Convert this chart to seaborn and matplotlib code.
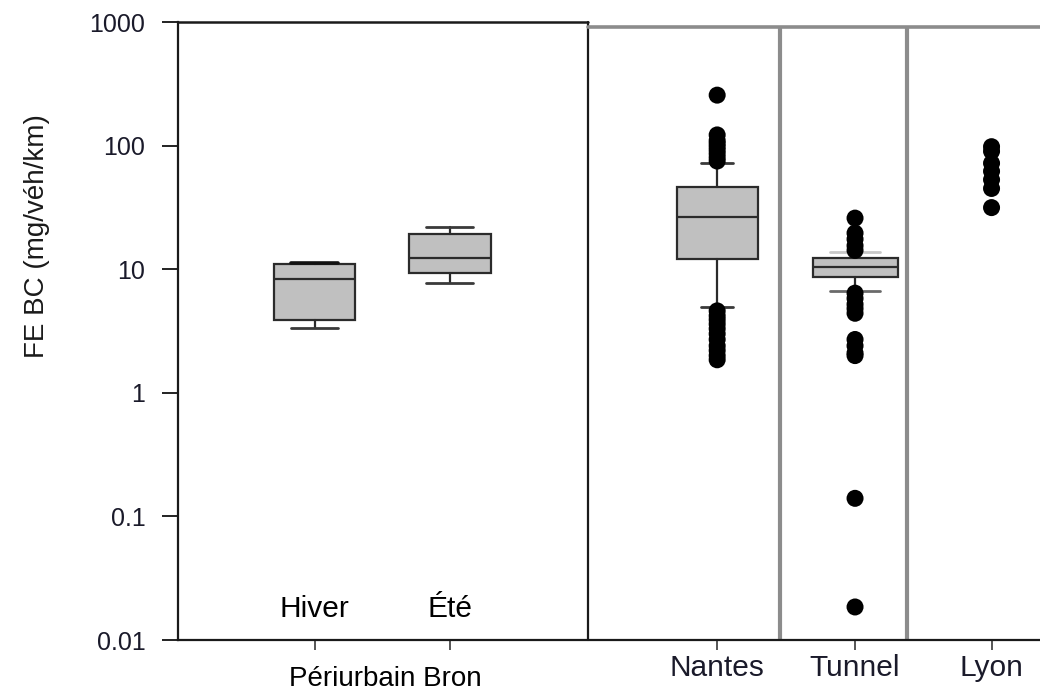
import matplotlib

matplotlib.use("Agg")

import matplotlib.pyplot as plt
import pandas as pd
import seaborn as sns
from matplotlib.ticker import NullLocator

sns.set_theme(style="white")
plt.rcParams["font.family"] = ["Liberation Sans", "DejaVu Sans"]

# box statistics (mg/veh/km)
box_groups = ["Hiver", "Été", "Nantes", "Tunnel"]
whislo = [3.33, 7.8, 4.9, 6.7]
q1 = [3.85, 9.3, 12.2, 8.6]
med = [8.3, 12.4, 26.6, 10.4]
q3 = [11.0, 19.3, 46.0, 12.4]
whishi = [11.2, 21.9, 72.0, 13.9]

# individual points (outliers / Lyon samples)
nantes_pts = [256, 122, 110, 104, 98, 92, 86, 80, 75,
              4.6, 4.2, 3.9, 3.6, 3.3, 3.0, 2.7, 2.4, 2.2, 2.0, 1.85]
tunnel_pts = [25.9, 19.6, 17.5, 15.5, 14.2,
              6.4, 5.8, 5.2, 4.8, 4.4, 2.7, 2.4, 2.1, 2.0, 0.14, 0.0185]
lyon_pts = [98, 90, 72, 62, 53, 45, 31.5]

sites = ["Hiver", "Été", "Nantes", "Tunnel", "Lyon"]
xtick_labels = ["", "", "Nantes", "Tunnel", "Lyon"]
yticks = [0.01, 0.1, 1, 10, 100, 1000]
ytick_labels = ["0.01", "0.1", "1", "10", "100", "1000"]

# layout
pos = {"Hiver": 1.0, "Été": 1.99, "Nantes": 3.95, "Tunnel": 4.96, "Lyon": 5.96}
box_widths = [0.6, 0.6, 0.593, 0.623]
cap_widths = [0.344, 0.344, 0.234, 0.366]

fig = plt.figure(figsize=(10.4, 6.92), dpi=100)
ax = fig.add_axes([178 / 1040, 52 / 692, 862 / 1040, 618 / 692])

stats = [
    {"label": g, "whislo": lo, "q1": a, "med": m, "q3": b, "whishi": hi, "fliers": []}
    for g, lo, a, m, b, hi in zip(box_groups, whislo, q1, med, q3, whishi)
]
art = ax.bxp(
    stats,
    positions=[pos[g] for g in box_groups],
    widths=box_widths,
    capwidths=cap_widths,
    patch_artist=True,
    showfliers=False,
    manage_ticks=False,
    boxprops=dict(facecolor="#c0c0c0", edgecolor="#2b2b2b", linewidth=1.6),
    medianprops=dict(color="#2b2b2b", linewidth=1.6),
    whiskerprops=dict(color="#2b2b2b", linewidth=1.6),
    capprops=dict(color="#3a3a3a", linewidth=2.0),
)
art["caps"][1].set_color("#111111")
art["caps"][1].set_linewidth(2.6)
art["caps"][7].set_color("#c8c8c8")
art["caps"][6].set_color("#6a6a6a")

pts = pd.DataFrame({
    "site": ["Nantes"] * len(nantes_pts) + ["Tunnel"] * len(tunnel_pts) + ["Lyon"] * len(lyon_pts),
    "value": nantes_pts + tunnel_pts + lyon_pts,
})
pts["x"] = pts["site"].map(pos)
sns.scatterplot(data=pts, x="x", y="value", ax=ax, color="black", s=150,
                edgecolor="none", legend=False, zorder=5)

ax.set_yscale("log")
ax.set_ylim(0.01, 1000)
ax.set_xlim(0, 862 / 136.5)
ax.set_yticks(yticks)
ax.set_yticklabels(ytick_labels)
ax.yaxis.set_minor_locator(NullLocator())
ax.set_xticks([pos[s] for s in sites])
ax.set_xticklabels(xtick_labels)
ax.set_xlabel("")
ax.set_ylabel("")

ax.tick_params(axis="y", direction="out", length=11.5, width=1.4, color="#222222",
               pad=12, labelsize=18, labelcolor="#1a1a2a", left=True)
ax.tick_params(axis="x", direction="out", length=7, width=1.4, color="#555555",
               pad=3, labelsize=21.5, labelcolor="#1a1a2a", bottom=True)

for side in ["top", "right"]:
    ax.spines[side].set_visible(False)
for side in ["left", "bottom"]:
    ax.spines[side].set_color("#1a1a1a")
    ax.spines[side].set_linewidth(1.6)

# frame of the left (Bron) panel
ax.plot([0, 3.0], [1000, 1000], color="#1a1a1a", lw=1.8, clip_on=False)
ax.plot([3.0, 3.0], [0.01, 1000], color="#1a1a1a", lw=1.6, clip_on=False)
# grey separators on the right part
ax.plot([3.0, 862 / 136.5], [905, 905], color="#8c8c8c", lw=2.6, clip_on=False)
ax.vlines([4.41, 5.34], 0.01, 905, color="#8c8c8c", lw=3)

# labels
inside = ax.get_xaxis_transform()
for s in ["Hiver", "Été"]:
    ax.text(pos[s], 0.037, s, transform=inside, ha="center", va="baseline",
            fontsize=21.5, color="black")
ax.text(1.52, -0.074, "Périurbain Bron", transform=inside, ha="center",
        va="baseline", fontsize=20, color="black")
ax.text(-0.163, 0.654, "FE BC (mg/véh/km)", transform=ax.transAxes, rotation=90,
        ha="center", va="center", fontsize=20, color="#1a1a1a")

fig.savefig("out.png", dpi=100)
plt.close(fig)
